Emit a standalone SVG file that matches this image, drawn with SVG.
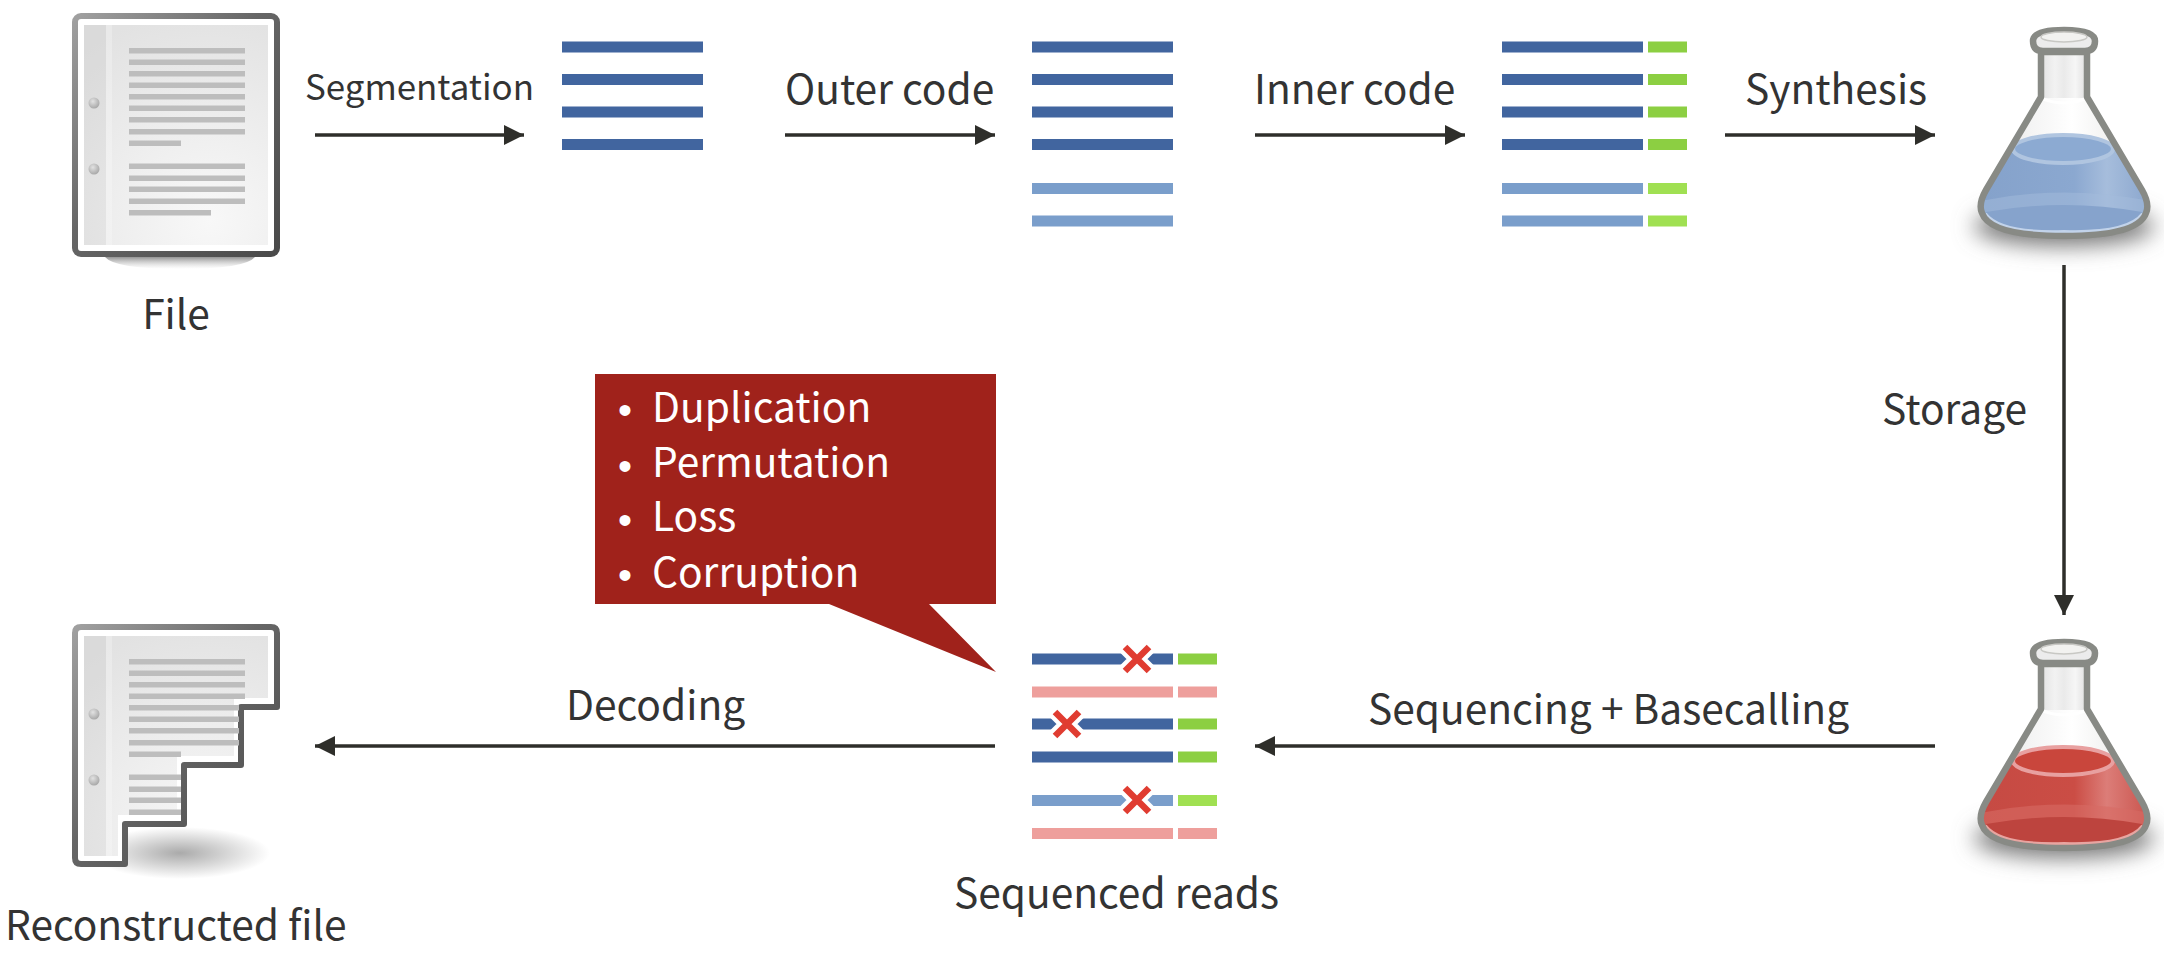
<svg xmlns="http://www.w3.org/2000/svg" xmlns:xlink="http://www.w3.org/1999/xlink" width="2164" height="966" viewBox="0 0 2164 966">
<style>
text{font-family:"Noto Sans CJK SC","Noto Sans",sans-serif;fill:#333}
.l{font-size:40.700px}
.w{font-size:40.700px;fill:#fff}
.bu{font-family:"Liberation Sans",sans-serif;font-size:40px;fill:#fff;text-anchor:middle}
.db{fill:#41659f}.lb{fill:#7a9ecb}.g{fill:#8ccf42}.lg{fill:#a0e052}.p{fill:#ee9f9c}
.r{fill:#bdbdbd}
.c{stroke:#2e2e2a;stroke-width:3.500;fill:none;marker-end:url(#ah)}
</style>
<defs>
<marker id="ah" markerUnits="userSpaceOnUse" markerWidth="22" markerHeight="22" refX="20" refY="10" orient="auto"><path d="M0 0L20 10L0 20Z" fill="#2e2e2a"/></marker>
<linearGradient id="docS" x1="0" y1="0" x2="1" y2="1"><stop offset="0" stop-color="#a0a0a0"/><stop offset=".45" stop-color="#666"/><stop offset="1" stop-color="#4a4a4a"/></linearGradient>
<radialGradient id="docP" gradientUnits="userSpaceOnUse" cx="210" cy="220" r="210"><stop offset="0" stop-color="#f8f8f8"/><stop offset="1" stop-color="#e2e2e2"/></radialGradient>
<radialGradient id="docP2" gradientUnits="userSpaceOnUse" cx="210" cy="831" r="210"><stop offset="0" stop-color="#f8f8f8"/><stop offset="1" stop-color="#e2e2e2"/></radialGradient>
<linearGradient id="sh" x1="0" y1="0" x2="0" y2="1"><stop offset="0" stop-color="#888" stop-opacity=".9"/><stop offset="1" stop-color="#ccc" stop-opacity="0"/></linearGradient>
<radialGradient id="shE"><stop offset="0" stop-color="#aaa"/><stop offset="1" stop-color="#aaa" stop-opacity="0"/></radialGradient>
<radialGradient id="hole" cx=".4" cy=".35" r=".7"><stop offset="0" stop-color="#e2e2e2"/><stop offset="1" stop-color="#a4a4a4"/></radialGradient>
<filter id="bl" x="-30%" y="-80%" width="160%" height="260%"><feGaussianBlur stdDeviation="11"/></filter>
<linearGradient id="glass" x1="0" y1="0" x2="1" y2="0"><stop offset="0" stop-color="#dcdcda"/><stop offset=".3" stop-color="#f4f4f4"/><stop offset=".55" stop-color="#fff"/><stop offset="1" stop-color="#e4e4e2"/></linearGradient>
<linearGradient id="neck" x1="0" y1="0" x2="1" y2="0"><stop offset="0" stop-color="#e2e2e2"/><stop offset=".3" stop-color="#f2f2f2"/><stop offset=".5" stop-color="#eaeaea"/><stop offset=".75" stop-color="#f6f6f6"/><stop offset="1" stop-color="#dedede"/></linearGradient>
<linearGradient id="blueL" x1="0" y1="0" x2="1" y2="0"><stop offset="0" stop-color="#84a1ca"/><stop offset=".55" stop-color="#8ba8d0"/><stop offset=".72" stop-color="#a6bddc"/><stop offset="1" stop-color="#84a1ca"/></linearGradient>
<linearGradient id="redL" x1="0" y1="0" x2="1" y2="0"><stop offset="0" stop-color="#c54a43"/><stop offset=".55" stop-color="#cb4d45"/><stop offset=".72" stop-color="#dc7d78"/><stop offset="1" stop-color="#c54a43"/></linearGradient>
<g id="rows">
<rect class="r" x="129" y="48" width="116" height="5.500"/><rect class="r" x="129" y="59.500" width="116" height="5.500"/><rect class="r" x="129" y="71" width="116" height="5.500"/><rect class="r" x="129" y="82.500" width="116" height="5.500"/><rect class="r" x="129" y="94" width="116" height="5.500"/><rect class="r" x="129" y="105.500" width="116" height="5.500"/><rect class="r" x="129" y="117" width="116" height="5.500"/><rect class="r" x="129" y="129" width="116" height="5.500"/><rect class="r" x="129" y="140.500" width="52" height="5.500"/>
<rect class="r" x="129" y="163.500" width="116" height="5.500"/><rect class="r" x="129" y="175.500" width="116" height="5.500"/><rect class="r" x="129" y="186.500" width="116" height="5.500"/><rect class="r" x="129" y="198.500" width="116" height="5.500"/><rect class="r" x="129" y="210" width="82" height="5.500"/>
</g>
<path id="flaskBody" d="M2041 52V97L1986 190Q1978 204 1982 213Q1990 236 2064 236Q2138 236 2146 213Q2150 204 2142 190L2087 97V52Z"/>
<clipPath id="fb"><use xlink:href="#flaskBody"/></clipPath>
<clipPath id="docClip"><path d="M75 627H277V707H241V765H184V824H125V864H75Z"/></clipPath>
<g id="flaskGlass">
<use xlink:href="#flaskBody" fill="url(#glass)"/>
<rect x="2041" y="52" width="46" height="46" fill="url(#neck)"/>
<path d="M2041 98Q2064 108 2087 98" fill="none" stroke="#fff" stroke-width="3" opacity=".9"/>
</g>
<g id="flaskTop">
<use xlink:href="#flaskBody" fill="none" stroke="#888a85" stroke-width="6.500" stroke-linejoin="round"/>
<path d="M2033 41Q2033 30 2064 30Q2095 30 2095 41Q2095 51 2085 51H2043Q2033 51 2033 41Z" fill="#ececec" stroke="#888a85" stroke-width="6.500"/>
<ellipse cx="2064" cy="37" rx="23" ry="5" fill="#f2f2f0" stroke="#c8c8c4" stroke-width="1.500"/>
</g>
</defs>
<rect width="2164" height="966" fill="#fff"/>
<g id="connectors">
<path class="c" d="M315 135H524"/><path class="c" d="M785 135H995"/><path class="c" d="M1255 135H1465"/><path class="c" d="M1725 135H1935"/>
<path class="c" d="M2064 265V615"/>
<path class="c" d="M1935 746H1255"/><path class="c" d="M995 746H315"/>
</g>
<g id="file">
<path d="M105 257H255Q245 269 180 269Q115 269 105 257Z" fill="url(#sh)"/>
<rect x="75" y="16" width="202" height="238" rx="6" fill="#fff" stroke="url(#docS)" stroke-width="6"/>
<rect x="84" y="25" width="184" height="220" fill="url(#docP)"/>
<rect x="84" y="25" width="22" height="220" fill="#000" opacity=".035"/><rect x="106" y="25" width="6" height="220" fill="#fff" opacity=".25"/>
<circle cx="94" cy="103" r="5.500" fill="url(#hole)"/><circle cx="94" cy="169" r="5.500" fill="url(#hole)"/>
<use xlink:href="#rows"/>
<text x="176" y="329" text-anchor="middle" class="l">File</text>
</g>
<g id="seg">
<text x="305" y="100" class="l" style="font-size:34.900px">Segmentation</text>
</g>
<g id="blocks1"><rect class="db" x="562" y="41.500" width="141" height="11"/><rect class="db" x="562" y="74" width="141" height="11"/><rect class="db" x="562" y="106.500" width="141" height="11"/><rect class="db" x="562" y="139" width="141" height="11"/></g>
<g id="outer">
<text x="785" y="104" class="l">Outer code</text>
<rect class="db" x="1032" y="41.500" width="141" height="11"/><rect class="db" x="1032" y="74" width="141" height="11"/><rect class="db" x="1032" y="106.500" width="141" height="11"/><rect class="db" x="1032" y="139" width="141" height="11"/><rect class="lb" x="1032" y="183" width="141" height="11"/><rect class="lb" x="1032" y="215.500" width="141" height="11"/>
</g>
<g id="inner">
<text x="1254" y="104" class="l">Inner code</text>
<rect class="db" x="1502" y="41.500" width="141" height="11"/><rect class="db" x="1502" y="74" width="141" height="11"/><rect class="db" x="1502" y="106.500" width="141" height="11"/><rect class="db" x="1502" y="139" width="141" height="11"/><rect class="lb" x="1502" y="183" width="141" height="11"/><rect class="lb" x="1502" y="215.500" width="141" height="11"/>
<rect class="g" x="1648" y="41.500" width="39" height="11"/><rect class="g" x="1648" y="74" width="39" height="11"/><rect class="g" x="1648" y="106.500" width="39" height="11"/><rect class="g" x="1648" y="139" width="39" height="11"/><rect class="lg" x="1648" y="183" width="39" height="11"/><rect class="lg" x="1648" y="215.500" width="39" height="11"/>
</g>
<g id="synthesis"><text x="1745" y="104" class="l">Synthesis</text></g>
<g id="flaskBlue">
<ellipse cx="2064" cy="226" rx="90" ry="20" fill="#777" filter="url(#bl)"/>
<use xlink:href="#flaskGlass"/>
<g clip-path="url(#fb)">
<path d="M1970 150H2160V240H1970Z" fill="url(#blueL)"/>
<path d="M1970 203Q2064 182 2160 203V240H1970Z" fill="#a4bcdb" opacity=".5"/>
<path d="M1986 212Q2064 198 2142 212Q2140 232 2064 230Q1988 232 1986 212Z" fill="#86a3cc"/>
<path d="M1985 214Q2000 234 2064 232Q2128 234 2143 214" fill="none" stroke="#c2d3ea" stroke-width="4"/>
</g>
<ellipse cx="2063" cy="149" rx="50" ry="14" fill="#8caad2" stroke="#b0c5e0" stroke-width="4"/>
<use xlink:href="#flaskTop"/>
</g>
<g id="storage"><text x="1882" y="424" class="l">Storage</text></g>
<g id="flaskRed" transform="translate(0 612)">
<ellipse cx="2064" cy="226" rx="90" ry="20" fill="#777" filter="url(#bl)"/>
<use xlink:href="#flaskGlass"/>
<g clip-path="url(#fb)">
<path d="M1970 150H2160V240H1970Z" fill="url(#redL)"/>
<path d="M1970 203Q2064 182 2160 203V240H1970Z" fill="#d76a64" opacity=".6"/>
<path d="M1986 212Q2064 198 2142 212Q2140 232 2064 230Q1988 232 1986 212Z" fill="#bd443e"/>
<path d="M1985 214Q2000 234 2064 232Q2128 234 2143 214" fill="none" stroke="#e8a5a1" stroke-width="4"/>
</g>
<ellipse cx="2063" cy="149" rx="50" ry="14" fill="#c9463c" stroke="#e8a0a0" stroke-width="4"/>
<use xlink:href="#flaskTop"/>
</g>
<g id="seqlabel"><text x="1368" y="724" class="l">Sequencing + Basecalling</text></g>
<g id="reads">
<rect class="db" x="1032" y="653.500" width="141" height="11"/><rect class="g" x="1178" y="653.500" width="39" height="11"/>
<rect class="p" x="1032" y="686.500" width="141" height="11"/><rect class="p" x="1178" y="686.500" width="39" height="11"/>
<rect class="db" x="1032" y="718.500" width="141" height="11"/><rect class="g" x="1178" y="718.500" width="39" height="11"/>
<rect class="db" x="1032" y="751.500" width="141" height="11"/><rect class="g" x="1178" y="751.500" width="39" height="11"/>
<rect class="lb" x="1032" y="795" width="141" height="11"/><rect class="lg" x="1178" y="795" width="39" height="11"/>
<rect class="p" x="1032" y="828" width="141" height="11"/><rect class="p" x="1178" y="828" width="39" height="11"/>
<path d="M1125 647L1149 671M1149 647L1125 671M1055 712L1079 736M1079 712L1055 736M1125 788L1149 812M1149 788L1125 812" stroke="#fff" stroke-width="15" fill="none"/>
<path d="M1125 647L1149 671M1149 647L1125 671M1055 712L1079 736M1079 712L1055 736M1125 788L1149 812M1149 788L1125 812" stroke="#e03c31" stroke-width="6.500" fill="none"/>
<text x="954" y="908" class="l">Sequenced reads</text>
</g>
<g id="callout">
<path d="M595 374H996V604H929L996 672L829 604H595Z" fill="#a0221b"/>
<text x="625" y="424" class="bu">•</text><text x="652" y="422" class="w">Duplication</text>
<text x="625" y="480" class="bu">•</text><text x="652" y="477" class="w">Permutation</text>
<text x="625" y="534" class="bu">•</text><text x="652" y="531" class="w">Loss</text>
<text x="625" y="589" class="bu">•</text><text x="652" y="587" class="w">Corruption</text>
</g>
<g id="decoding"><text x="566" y="720" class="l">Decoding</text></g>
<g id="reconstructed">
<ellipse cx="180" cy="853" rx="90" ry="26" fill="url(#shE)"/>
<path d="M75 633Q75 627 81 627H271Q277 627 277 633V707H241V765H184V824H125V864H81Q75 864 75 858Z" fill="#fff" stroke="url(#docS)" stroke-width="6" stroke-linejoin="round"/>
<g clip-path="url(#docClip)">
<path d="M84 636H268V698H234V756H177V815H118V856H84Z" fill="url(#docP2)"/>
<rect x="84" y="636" width="22" height="220" fill="#000" opacity=".035"/><rect x="106" y="636" width="6" height="220" fill="#fff" opacity=".25"/>
</g>
<circle cx="94" cy="714" r="5.500" fill="url(#hole)"/><circle cx="94" cy="780" r="5.500" fill="url(#hole)"/>
<g class="r">
<rect x="129" y="659" width="116" height="5.500"/><rect x="129" y="670.500" width="116" height="5.500"/><rect x="129" y="682" width="116" height="5.500"/><rect x="129" y="693.500" width="116" height="5.500"/>
<rect x="129" y="705" width="110" height="5.500"/><rect x="129" y="716.500" width="110" height="5.500"/><rect x="129" y="728" width="110" height="5.500"/><rect x="129" y="740" width="110" height="5.500"/>
<rect x="129" y="751.500" width="52" height="5.500"/><rect x="129" y="774.500" width="52" height="5.500"/><rect x="129" y="786.500" width="52" height="5.500"/><rect x="129" y="797.500" width="52" height="5.500"/><rect x="129" y="809.500" width="52" height="5.500"/>
</g>
<text x="5" y="940" class="l">Reconstructed file</text>
</g>
</svg>
